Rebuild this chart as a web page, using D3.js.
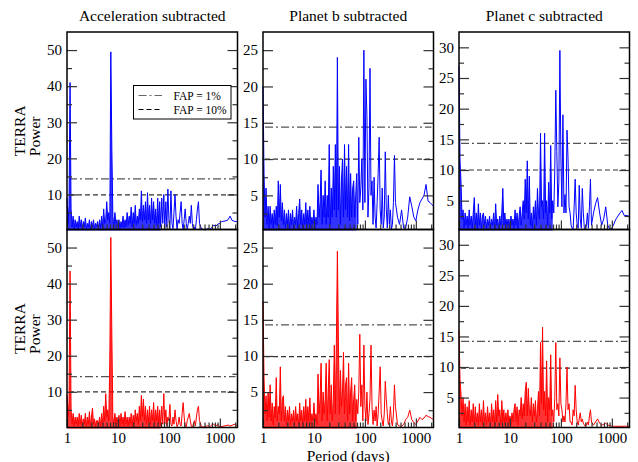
<!DOCTYPE html>
<html>
<head>
<meta charset="utf-8">
<script src="https://cdn.jsdelivr.net/npm/d3@7"></script>
<style>
  body { margin: 0; background: #fff; }
  svg { display: block; }
</style>
</head>
<body>
<svg id="chart" width="638" height="462"></svg>
<script>
// Period grid (days), shared by all six periodograms
const periods = [
  1, 1.047, 1.096, 1.148, 1.202, 1.259, 1.318, 1.380, 1.445, 1.514,
  1.585, 1.660, 1.738, 1.820, 1.905, 1.995, 2.089, 2.188, 2.291, 2.399,
  2.512, 2.630, 2.754, 2.884, 3.020, 3.162, 3.311, 3.467, 3.631, 3.802,
  3.981, 4.169, 4.365, 4.571, 4.786, 5.012, 5.248, 5.495, 5.754, 6.026,
  6.310, 6.607, 6.918, 7.244, 7.586, 7.943, 8.318, 8.710, 9.120, 9.550,
  10.00, 10.47, 10.96, 11.48, 12.02, 12.59, 13.18, 13.80, 14.45, 15.14,
  15.85, 16.60, 17.38, 18.20, 19.05, 19.95, 20.89, 21.88, 22.91, 23.99,
  25.12, 26.30, 27.54, 28.84, 30.20, 31.62, 33.11, 34.67, 36.31, 38.02,
  39.81, 41.69, 43.65, 45.71, 47.86, 50.12, 52.48, 54.95, 57.54, 60.26,
  63.10, 66.07, 69.18, 72.44, 75.86, 79.43, 83.18, 87.10, 91.20, 95.50,
  100.0, 104.7, 109.6, 114.8, 120.2, 125.9, 131.8, 138.0, 144.5, 151.4,
  158.5, 166.0, 173.8, 182.0, 190.5, 199.5, 208.9, 218.8, 229.1, 239.9,
  251.2, 263.0, 275.4, 288.4, 302.0, 316.2, 331.1, 346.7, 363.1, 380.2,
  398.1, 436.5, 478.6, 524.8, 575.4, 631.0, 691.8, 758.6, 831.8, 912.0,
  1000, 1096, 1202, 1318, 1445, 1585, 1738, 1905, 2089, 2200
];

// TERRA power, top row (blue)
const accBlue = [
  9, 2, 7, 41, 6, 1, 4, 0.5, 3, 1,
  2.5, 0.3, 4, 1, 3, 0.5, 2.5, 1, 3.5, 0.4,
  2, 1, 3, 0.3, 2.5, 1, 3, 0.5, 2, 1.2,
  2.5, 0.5, 3, 0.8, 4, 1, 6, 2, 3, 8,
  3, 5, 2, 49.5, 23, 4, 1, 5, 2, 3,
  1, 3, 0.5, 2.5, 1, 4, 0.8, 3, 1, 5,
  1.5, 4, 2, 6.5, 1, 5, 2, 7, 1.5, 4,
  2, 6, 3, 11, 2.5, 7, 3, 8, 2, 10.5,
  3, 7, 2, 9, 3, 8, 2, 6, 1.5, 9,
  2, 8, 1, 9, 2, 10, 0.5, 8, 1, 11.5,
  3, 0.5, 11, 2, 0.5, 5, 10, 4, 0.3, 3,
  2, 5, 8, 2, 0.3, 3, 6, 2, 0.3, 2,
  4, 2, 7, 2, 0.3, 1, 0.3, 3, 6, 8,
  2, 0.5, 0.3, 0.2, 0.6, 0.3, 0.8, 1.5, 1.2, 1.8,
  2, 2.5, 2.6, 2.7, 3, 4, 2.8, 2.6, 2.5, 2.4
];
const planetBBlue = [
  20, 8, 2, 6, 1, 3.5, 0.5, 3.5, 1, 2.5,
  0.5, 3, 1, 3.5, 0.8, 7, 2, 6.5, 1.5, 4,
  1, 3, 0.5, 2.5, 1, 3, 0.4, 2.5, 1, 3,
  0.5, 2, 1, 3.5, 0.5, 2.5, 4.5, 1, 3, 0.3,
  2.5, 1, 4, 0.5, 3, 1, 3.5, 0.5, 2, 1,
  3, 0.5, 2, 1, 6.5, 2, 4, 8.5, 1, 5,
  2, 7, 1, 5, 2, 12, 1, 6, 2, 9,
  3, 12, 2, 24, 3, 9, 1, 7, 10, 2,
  12, 3, 9, 2, 12, 1.5, 8, 2, 6, 7,
  2, 5, 8, 1, 13, 4, 6, 10, 3, 25,
  4, 21, 16, 2, 6, 22.5, 5, 7, 1, 7.5,
  2, 0.5, 4, 8, 13, 3, 1, 6, 0.5, 2,
  11, 3, 0.5, 5, 1, 3, 0.3, 1, 4, 10.5,
  4, 2, 1, 3, 0.5, 0.5, 2, 4.8, 3.5, 2,
  1.5, 3, 4, 4.5, 5, 6.5, 4.2, 4, 3.7, 3.5
];
const planetCBlue = [
  27, 11.5, 8, 2, 3.5, 0.5, 3, 1, 2.5, 0.5,
  3.5, 1, 2.5, 0.5, 3, 5.5, 1, 3, 0.5, 4.5,
  1, 3, 0.5, 2.5, 3, 1, 2.5, 0.5, 2, 1,
  2.5, 0.5, 2, 1, 3, 0.5, 4.5, 1, 2, 0.5,
  2.5, 1, 3, 7, 1, 3, 0.5, 2, 1, 2,
  0.5, 2.5, 1, 2, 0.5, 3.5, 1, 3, 0.5, 2.5,
  4, 1, 3, 5, 2, 8.5, 3, 11.5, 2, 9,
  1, 3, 0.5, 4, 2, 5, 1, 7, 3, 2,
  16, 4, 5, 2, 16, 3, 5, 1, 8, 3,
  14, 2, 5, 3, 10, 23, 13, 4, 8, 29.5,
  12, 4, 19, 3, 6, 3, 16.5, 12, 4, 3,
  1, 0.5, 0.3, 4, 8.5, 3, 1, 0.5, 7.5, 2,
  0.5, 7, 3, 0.5, 0.3, 1, 3, 0.5, 4, 8.5,
  1, 3, 4.5, 5.5, 3, 1, 2, 4, 1, 0.3,
  0.5, 1.2, 2, 2.5, 3, 3.4, 2.6, 2.6, 2.5, 2.5
];

// TERRA power, bottom row (red)
const accRed = [
  9, 3, 7, 43.5, 5, 1, 4, 0.5, 3, 1,
  3, 0.5, 4, 1, 3.5, 0.5, 2.5, 1, 4, 0.5,
  3, 1, 4.5, 0.5, 3, 5.5, 1, 2.5, 0.5, 2,
  2, 1, 3, 0.5, 4, 1, 6, 2, 9.5, 3,
  5, 2, 18.5, 52.8, 26, 3, 1, 4, 1, 3,
  1, 3.5, 0.5, 4, 1, 3, 0.5, 4.5, 1, 3,
  0.5, 3, 1, 4, 0.5, 3.5, 1, 5, 2, 4,
  1, 6, 2, 9, 3, 8, 2, 6, 1, 5,
  1.5, 6, 1, 5, 2, 7, 1, 5, 2, 6,
  1, 5, 0.5, 6, 1, 9.5, 1, 5, 0.5, 3,
  2, 6.5, 1, 0.5, 3, 1, 5, 2, 0.3, 1,
  3, 1, 0.5, 4, 7, 3, 0.5, 0.3, 2, 3,
  4, 2, 0.5, 0.3, 1, 2, 0.5, 3, 5, 6,
  2, 0.3, 0.2, 0.4, 0.6, 0.3, 0.8, 1, 0.5, 1,
  0.3, 0.4, 0.5, 0.6, 0.8, 0.5, 0.7, 1, 0.8, 0.6
];
const planetBRed = [
  17.5, 7, 2, 4.5, 1, 5, 1.5, 6, 1, 3.5,
  0.5, 3, 1.5, 7, 1, 3, 2, 8.5, 1, 4,
  4.5, 1, 3, 0.5, 2.5, 1, 3, 0.5, 2, 1,
  2.5, 0.5, 3, 1, 2, 0.5, 3.5, 1, 2.5, 0.5,
  3, 1, 4, 0.5, 3, 1, 4.2, 0.5, 2, 1,
  3.5, 1, 2, 0.5, 7.5, 2, 4, 9, 1, 5,
  2, 4, 9, 1, 5, 9.5, 2, 6, 1, 4,
  11.5, 2, 11.7, 24.5, 12, 2, 8, 3, 5, 10.5,
  2, 6, 7, 1, 9, 2, 5, 7, 1, 4,
  6, 1, 4, 2, 5, 13, 3, 6, 1, 11.5,
  3, 1, 5, 0.5, 2, 4, 11.5, 3, 0.5, 2.5,
  1, 3, 0.3, 2, 5, 8.5, 2, 1, 0.3, 2,
  6.5, 4, 2, 0.5, 1, 3, 1, 0.3, 2, 6,
  3, 0.5, 0.3, 0.3, 0.5, 1.2, 1.5, 2.5, 1.2, 0.8,
  0.5, 1, 1.5, 1.2, 1.4, 1.8, 1.6, 1.5, 1.3, 1.2
];
const planetCRed = [
  16, 8, 5.5, 2, 5, 1, 4, 0.5, 3.5, 1,
  4.5, 0.5, 3, 1, 4, 0.5, 3.5, 1, 2.5, 0.5,
  4, 1, 3, 0.5, 4.5, 1, 2.5, 0.5, 3.5, 1,
  2.5, 0.5, 4, 1, 3, 0.5, 4.5, 1, 5.5, 2,
  3, 0.5, 4.5, 1, 3, 0.5, 2.5, 1, 3, 0.5,
  2, 0.5, 2.5, 1, 3, 4, 1, 3.5, 0.5, 3,
  2, 5, 1.5, 4, 2, 6, 7.5, 2, 6.5, 3,
  2, 5, 1, 4, 2, 4.5, 1, 3, 6, 2,
  14, 4, 16.5, 3, 6, 2, 11, 1, 5, 3,
  12, 2, 3, 1, 5, 14, 3, 4, 2, 11.5,
  4, 3, 1, 2, 1, 4, 10, 3, 4, 1,
  1, 0.5, 3, 2, 7, 3, 1, 0.5, 1.5, 2.5,
  1, 1.5, 0.8, 0.5, 0.3, 0.5, 1, 0.5, 2, 3,
  1, 0.5, 1, 1.5, 0.8, 0.5, 0.6, 0.8, 0.5, 0.4,
  0.3, 0.3, 0.3, 0.3, 0.3, 0.3, 0.3, 0.3, 0.3, 0.3
];

const titles = ["Acceleration subtracted", "Planet b subtracted", "Planet c subtracted"];
const legendLabels = ["FAP = 1%", "FAP = 10%"];

// false-alarm levels per panel (top row then bottom row)
const fap1 = [14.3, 14.4, 14.35, 14.2, 14.3, 14.2];
const fap10 = [9.9, 10.0, 10.0, 10.0, 9.9, 9.8];

// axis ticks
const yMax = [55, 27.5, 32.5];
const yMajor = [[10, 20, 30, 40, 50], [5, 10, 15, 20, 25], [5, 10, 15, 20, 25, 30]];
const yMinor = [[5, 15, 25, 35, 45], [2.5, 7.5, 12.5, 17.5, 22.5], [2.5, 7.5, 12.5, 17.5, 22.5, 27.5]];
const xMajor = [1, 10, 100, 1000];
const xMinor = [2, 3, 4, 5, 6, 7, 8, 9, 20, 30, 40, 50, 60, 70, 80, 90,
                200, 300, 400, 500, 600, 700, 800, 900, 2000];

const series = [[accBlue, planetBBlue, planetCBlue], [accRed, planetBRed, planetCRed]];
const colors = ["#0000ff", "#ff0000"];

// layout
const serif = '"Liberation Serif", "Times New Roman", serif';
const colLeft = [67, 263, 459];
const panelW = 170.5;
const rowTop = [32, 229.5];
const rowBottom = [229.5, 427.5];
const yMin = [0.3, 0.1];
const densePeriod = 70;   // below this the periodogram is too dense to resolve, drawn as a solid band

const svg = d3.select("#chart");

function styleAxis(g) {
  g.attr("font-family", serif).attr("font-size", 15);
  g.select(".domain").remove();
  g.selectAll(".tick line").attr("stroke", "#333").attr("stroke-width", 1.2);
  g.selectAll(".tick text").attr("fill", "#000");
}

for (let r = 0; r < 2; r++) {
  for (let c = 0; c < 3; c++) {
    const idx = r * 3 + c;
    const x0 = colLeft[c];
    const x = d3.scaleLog().domain([1, 2220]).range([x0, x0 + panelW]);
    const y = d3.scaleLinear().domain([yMin[r], yMax[c]]).range([rowBottom[r], rowTop[r]]);
    const g = svg.append("g");

    // false alarm probability levels
    g.append("line")
      .attr("x1", x0 + 2).attr("x2", x0 + panelW - 2)
      .attr("y1", y(fap1[idx])).attr("y2", y(fap1[idx]))
      .attr("stroke", "#555").attr("stroke-width", 1.2)
      .attr("stroke-dasharray", "8,3,2,3");
    g.append("line")
      .attr("x1", x0 + 2).attr("x2", x0 + panelW - 2)
      .attr("y1", y(fap10[idx])).attr("y2", y(fap10[idx]))
      .attr("stroke", "#333").attr("stroke-width", 1.2)
      .attr("stroke-dasharray", "5,3");

    // periodogram
    const pts = periods.map((p, j) => [p, series[r][c][j]]);
    const area = d3.area()
      .defined(d => d[0] <= densePeriod)
      .x(d => x(d[0])).y0(rowBottom[r] + 1).y1(d => y(d[1]));
    g.append("path").datum(pts)
      .attr("d", area)
      .attr("fill", colors[r]).attr("fill-opacity", 0.8);
    const line = d3.line().x(d => x(d[0])).y(d => y(d[1]));
    g.append("path").datum(pts)
      .attr("d", line)
      .attr("fill", "none")
      .attr("stroke", colors[r])
      .attr("stroke-width", 1);

    // y ticks, left (labelled) and right
    g.append("g").attr("transform", `translate(${x0},0)`)
      .call(d3.axisLeft(y).tickValues(yMajor[c]).tickSize(-10).tickPadding(5).tickFormat(d3.format("d")))
      .call(styleAxis);
    g.append("g").attr("transform", `translate(${x0},0)`)
      .call(d3.axisLeft(y).tickValues(yMinor[c]).tickSize(-5).tickFormat(""))
      .call(styleAxis);
    g.append("g").attr("transform", `translate(${x0 + panelW},0)`)
      .call(d3.axisRight(y).tickValues(yMajor[c]).tickSize(-10).tickFormat(""))
      .call(styleAxis);
    g.append("g").attr("transform", `translate(${x0 + panelW},0)`)
      .call(d3.axisRight(y).tickValues(yMinor[c]).tickSize(-5).tickFormat(""))
      .call(styleAxis);

    // x ticks
    g.append("g").attr("transform", `translate(0,${rowBottom[r]})`)
      .call(d3.axisBottom(x).tickValues(xMajor).tickSize(-9).tickPadding(5)
        .tickFormat(r === 1 ? d3.format("d") : ""))
      .call(styleAxis);
    g.append("g").attr("transform", `translate(0,${rowBottom[r]})`)
      .call(d3.axisBottom(x).tickValues(xMinor).tickSize(-5).tickFormat(""))
      .call(styleAxis);

    // frame
    g.append("rect")
      .attr("x", x0).attr("y", rowTop[r])
      .attr("width", panelW).attr("height", rowBottom[r] - rowTop[r])
      .attr("fill", "none").attr("stroke", "#000").attr("stroke-width", 1.5);

    if (r === 0) {
      svg.append("text")
        .attr("x", x0 + panelW / 2).attr("y", 20.5)
        .attr("text-anchor", "middle")
        .attr("font-family", serif).attr("font-size", 15.5)
        .text(titles[c]);
    }
  }

  // y label, two lines, start aligned
  const cy = (rowTop[r] + rowBottom[r]) / 2 + 25.4;
  [["TERRA", 25], ["Power", 40]].forEach(([t, lx]) => {
    svg.append("text")
      .attr("transform", `translate(${lx},${cy}) rotate(-90)`)
      .attr("text-anchor", "start")
      .attr("font-family", serif).attr("font-size", 15.5)
      .text(t);
  });
}

// x label
svg.append("text")
  .attr("x", colLeft[1] + panelW / 2).attr("y", 460.5)
  .attr("text-anchor", "middle")
  .attr("font-family", serif).attr("font-size", 15.5)
  .text("Period (days)");

// legend in the first panel
const leg = svg.append("g");
leg.append("rect")
  .attr("x", 133.5).attr("y", 85.5).attr("width", 97.5).attr("height", 33.5)
  .attr("fill", "#fff").attr("stroke", "#000").attr("stroke-width", 1);
const legDash = ["8,3,2,3", "5,3"];
const legColor = ["#666", "#000"];
legendLabels.forEach((t, i) => {
  const ly = 95.5 + i * 14;
  leg.append("line")
    .attr("x1", 138.5).attr("x2", 162).attr("y1", ly).attr("y2", ly)
    .attr("stroke", legColor[i]).attr("stroke-width", 1.2)
    .attr("stroke-dasharray", legDash[i]);
  leg.append("text")
    .attr("x", 173.5).attr("y", ly + 4)
    .attr("font-family", serif).attr("font-size", 11.5)
    .text(t);
});
</script>
</body>
</html>
